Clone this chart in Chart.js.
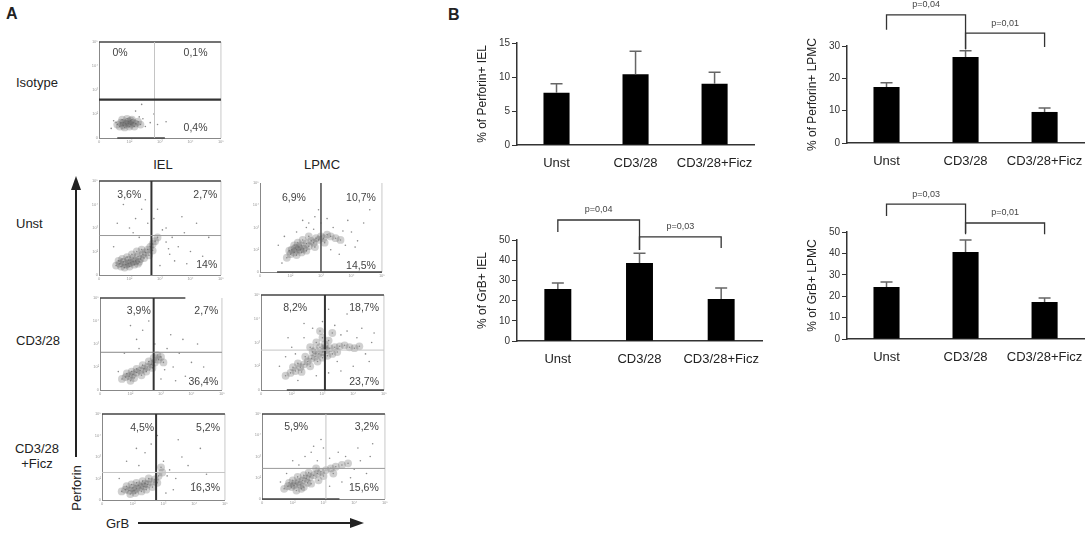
<!DOCTYPE html>
<html><head><meta charset="utf-8">
<script src="https://cdn.jsdelivr.net/npm/chart.js@4.4.1/dist/chart.umd.min.js"></script>
<style>
html,body{margin:0;padding:0;background:#fff;}
#fig{position:relative;width:1088px;height:543px;overflow:hidden;font-family:'Liberation Sans',Arial,sans-serif;color:#222;background:#fff;}
canvas{position:absolute;}
.lbl{position:absolute;font-size:13px;white-space:nowrap;line-height:1;}
.mid{transform:translateY(-50%);}
svg{position:absolute;left:0;top:0;}
</style></head><body>
<div id="fig">
  <div class="lbl" style="left:6px;top:6px;font-weight:bold;font-size:16px;">A</div>
  <div class="lbl" style="left:448px;top:7px;font-weight:bold;font-size:16px;">B</div>
  <div class="lbl mid" style="left:16px;top:82px;">Isotype</div>
  <div class="lbl mid" style="left:16px;top:223px;">Unst</div>
  <div class="lbl mid" style="left:16px;top:340px;">CD3/28</div>
  <div class="lbl" style="left:12px;top:441px;width:50px;text-align:center;line-height:15px;">CD3/28<br>+Ficz</div>
  <div class="lbl" style="left:163px;top:164px;transform:translate(-50%,-50%);">IEL</div>
  <div class="lbl" style="left:322px;top:164px;transform:translate(-50%,-50%);">LPMC</div>
  <div class="lbl" style="left:76px;top:488px;transform:translate(-50%,-50%) rotate(-90deg);">Perforin</div>
  <div class="lbl mid" style="left:106px;top:523px;">GrB</div>
  <svg width="1088" height="543">
    <line x1="76" y1="189" x2="76" y2="457" stroke="#222" stroke-width="2"/>
    <polygon points="76,176 71,190 81,190" fill="#222"/>
    <line x1="138" y1="523" x2="352" y2="523" stroke="#222" stroke-width="2"/>
    <polygon points="364,523 350,518 350,528" fill="#222"/>
  </svg>
</div>
<script>
// ---------------- DATA ----------------
const groups = ['Unst', 'CD3/28', 'CD3/28+Ficz'];

const perfIelMean  = [7.7, 10.4, 9.0];
const perfIelErr   = [1.3, 3.4, 1.7];
const perfLpmcMean = [17.3, 26.6, 9.6];
const perfLpmcErr  = [1.3, 1.9, 1.2];
const grbIelMean   = [25.7, 38.6, 20.8];
const grbIelErr    = [3.0, 4.9, 5.4];
const grbLpmcMean  = [24.3, 40.6, 17.3];
const grbLpmcErr   = [2.3, 5.7, 1.9];

const ticks15 = ['0', '5', '10', '15'];
const ticks30 = ['0', '10', '20', '30'];
const ticks50 = ['0', '10', '20', '30', '40', '50'];

// brackets: [fromGroup, toGroup, barLevel, leftLegEnd, rightLegEnd, label]
const perfLpmcBrackets = [[0, 1, 39.6, 35, 29, 'p=0,04'], [1, 2, 34, 29, 29.7, 'p=0,01']];
const grbIelBrackets   = [[0, 1, 59.9, 54, 45, 'p=0,04'], [1, 2, 51.5, 45, 46, 'p=0,03']];
const grbLpmcBrackets  = [[0, 1, 63, 57.5, 49.5, 'p=0,03'], [1, 2, 54.2, 49, 49, 'p=0,01']];

// flow plots: gates (in % of axis) and quadrant percentages [UL, UR, LR]
const flowTicks = ['0', '10²', '10³', '10⁴', '10⁵'];
const gateX = [45.5, 43, 50, 44, 52, 44, 52];
const gateY = [40, 42, null, 41, 42, 32, 36];
const pctIso      = ['0%', '0,1%', '0,4%'];
const pctUnstIel  = ['3,6%', '2,7%', '14%'];
const pctUnstLpmc = ['6,9%', '10,7%', '14,5%'];
const pctCd3Iel   = ['3,9%', '2,7%', '36,4%'];
const pctCd3Lpmc  = ['8,2%', '18,7%', '23,7%'];
const pctFiczIel  = ['4,5%', '5,2%', '16,3%'];
const pctFiczLpmc = ['5,9%', '3,2%', '15,6%'];

// hand-read dot clouds (x%, y%)
const isoCore = [[15,14],[18,16],[20,13],[22,15],[24,17],[26,14],[28,16],[30,15],[19,19],[23,20],[27,19],[21,11],[25,12],[29,12],[17,12],[32,17],[34,14],[24,15],[20,16],[26,18]];
const isoSparse = [[12,18],[36,20],[38,12],[42,16],[48,14],[55,17],[30,28],[35,35],[10,10],[45,25],[33,22],[14,16]];
const unstIelCore = [[14,10],[17,12],[20,14],[22,11],[24,16],[26,13],[28,18],[30,15],[32,20],[34,17],[36,22],[38,24],[40,27],[42,30],[44,33],[46,36],[48,40],[19,17],[23,19],[27,22],[31,25],[35,27],[25,9],[29,11],[33,14],[37,18],[41,21],[16,15],[21,8],[44,26],[18,9],[24,12],[28,14],[32,12]];
const unstIelSparse = [[25,50],[30,60],[35,70],[20,75],[40,55],[28,45],[45,60],[55,50],[60,40],[65,30],[70,45],[75,25],[80,55],[85,20],[58,22],[62,15],[50,10],[55,35],[90,40],[38,80],[15,55],[52,48],[68,62],[48,70],[12,30],[33,40],[57,28],[72,12]];
const unstLpmcCore = [[22,16],[25,20],[28,22],[30,25],[32,28],[34,30],[36,26],[38,32],[40,29],[42,35],[44,33],[46,38],[48,36],[50,40],[52,38],[55,42],[58,40],[26,25],[30,19],[34,22],[38,24],[31,33],[35,36],[40,40],[28,30],[24,24],[45,28],[62,38],[66,36],[53,33],[33,25],[29,27]];
const unstLpmcSparse = [[40,55],[45,62],[38,50],[50,55],[55,60],[35,58],[60,50],[70,30],[75,45],[80,35],[85,55],[65,20],[72,58],[20,40],[30,45],[48,70],[90,70],[15,30],[58,25],[44,48],[18,10],[68,46],[78,28]];
const cd3IelCore = [[18,12],[21,14],[24,15],[27,17],[30,19],[33,21],[36,23],[39,25],[42,28],[45,30],[48,33],[50,36],[22,18],[26,20],[30,23],[35,27],[40,31],[44,35],[47,38],[28,13],[34,16],[38,20],[43,24],[52,30],[25,10]];
const cd3IelSparse = [[30,55],[35,65],[25,70],[55,45],[60,25],[65,40],[70,15],[75,30],[80,50],[58,60],[45,50],[85,25],[50,12],[40,75],[62,10],[20,40],[15,20],[53,22],[68,55],[32,45]];
const cd3LpmcCore = [[20,15],[24,18],[28,20],[32,24],[35,27],[38,30],[41,33],[44,35],[47,38],[50,40],[53,42],[56,44],[60,45],[64,46],[68,47],[72,45],[76,44],[80,46],[30,28],[36,35],[42,40],[48,45],[52,48],[46,30],[54,36],[58,38],[40,25],[33,19],[26,24],[62,40],[50,55],[45,50],[55,52],[58,60],[48,62],[40,45],[50,34],[44,42],[52,44]];
const cd3LpmcSparse = [[15,25],[20,35],[25,45],[35,55],[42,65],[50,72],[60,68],[65,58],[70,62],[78,55],[85,38],[90,50],[88,30],[75,25],[65,20],[55,18],[45,15],[30,10],[92,60],[70,80],[55,85],[35,70],[22,55],[82,65],[62,30],[28,38]];
const ficzIelCore = [[16,10],[19,12],[22,11],[25,14],[28,13],[31,15],[34,16],[37,18],[40,21],[43,24],[46,28],[49,32],[20,16],[24,18],[28,20],[33,22],[38,25],[27,8],[32,10],[36,12],[41,15],[23,7],[45,20],[48,38],[35,19],[30,17],[26,11]];
const ficzIelSparse = [[30,40],[35,55],[40,65],[28,60],[50,45],[55,35],[60,25],[65,50],[70,40],[75,20],[80,60],[58,12],[52,8],[85,30],[45,75],[20,45],[62,70],[90,15],[14,25],[53,28]];
const ficzLpmcCore = [[18,12],[21,15],[24,14],[27,18],[30,20],[33,22],[36,24],[39,26],[42,28],[45,30],[48,32],[52,34],[56,36],[60,38],[65,40],[70,42],[25,22],[29,26],[34,28],[38,31],[28,10],[34,14],[40,18],[46,22],[31,17],[37,19],[44,36],[22,19],[50,27],[58,30],[32,12],[26,16]];
const ficzLpmcSparse = [[30,40],[35,50],[40,55],[45,45],[50,60],[55,48],[62,55],[68,50],[75,35],[80,45],[85,30],[78,60],[88,50],[65,20],[55,15],[20,30],[25,45],[48,70],[90,65],[15,20],[72,25],[42,62]];

// ---------------- RENDER ----------------
Chart.defaults.font.family = "'Liberation Sans', Arial, sans-serif";
Chart.defaults.animation = false;

const fig = document.getElementById('fig');
function addCanvas(left, top, w, h) {
  const c = document.createElement('canvas');
  c.width = w; c.height = h;
  c.style.left = left + 'px'; c.style.top = top + 'px';
  c.style.width = w + 'px'; c.style.height = h + 'px';
  fig.appendChild(c);
  return c;
}

const flowPlugin = {
  id: 'flow',
  afterDatasetsDraw(chart, args, o) {
    const {ctx, chartArea: a, scales: {x, y}} = chart;
    const line = (x1, y1, x2, y2, c, w) => { ctx.beginPath(); ctx.strokeStyle = c; ctx.lineWidth = w; ctx.moveTo(x1, y1); ctx.lineTo(x2, y2); ctx.stroke(); };
    const st = o.st;
    ctx.save();
    line(a.right, a.top, a.right, a.bottom, '#c8c8c8', 1);
    if (st.top) line(x.getPixelForValue(st.top[0]), a.top, x.getPixelForValue(st.top[1]), a.top, '#444', 1.6);
    if (st.bottom) line(x.getPixelForValue(st.bottom[0]), a.bottom, x.getPixelForValue(st.bottom[1]), a.bottom, '#444', 1.6);
    if (o.gx != null) { const px = x.getPixelForValue(o.gx); line(px, a.top, px, a.bottom, st.v[0], st.v[1]); }
    if (o.gy != null) { const py = y.getPixelForValue(o.gy); line(a.left, py, a.right, py, st.h[0], st.h[1]); }
    ctx.fillStyle = '#444';
    ctx.font = "10.5px 'Liberation Sans', Arial, sans-serif";
    ctx.textBaseline = 'middle';
    const L = o.lp;
    ctx.textAlign = 'left';
    ctx.fillText(o.pct[0], x.getPixelForValue(L[0]), y.getPixelForValue(L[1]));
    ctx.textAlign = 'right';
    ctx.fillText(o.pct[1], x.getPixelForValue(L[2]), y.getPixelForValue(L[3]));
    ctx.fillText(o.pct[2], x.getPixelForValue(L[4]), y.getPixelForValue(L[5]));
    ctx.restore();
  }
};

function makeFlow(rect, core, sparse, gx, gy, pct, lp, st) {
  const [l, t, r, b] = rect;
  const padL = 14, padT = 3, padR = 3, padB = 10;
  const c = addCanvas(l - padL, t - padT, (r - l) + padL + padR, (b - t) + padT + padB);
  const axisCommon = {
    type: 'linear', min: 0, max: 100,
    grid: {display: false, drawTicks: false},
    border: {display: true, color: '#888', width: 1, dash: [1, 2]},
    ticks: {stepSize: 25, font: {size: 4}, color: '#999', padding: 1, callback: (v, i) => flowTicks[i]}
  };
  new Chart(c, {
    type: 'scatter',
    data: {datasets: [
      {data: core.map(p => ({x: p[0], y: p[1]})), pointRadius: 3.9, pointBorderWidth: 0, pointBackgroundColor: 'rgba(100,100,100,0.3)'},
      {data: core.map(p => ({x: p[0], y: p[1]})), pointRadius: 0.8, pointBorderWidth: 0, pointBackgroundColor: 'rgba(90,90,90,0.6)'},
      {data: sparse.map(p => ({x: p[0], y: p[1]})), pointRadius: 0.8, pointBorderWidth: 0, pointBackgroundColor: 'rgba(110,110,110,0.8)'}
    ]},
    options: {
      responsive: false, events: [],
      layout: {padding: {top: padT, right: padR, left: 0, bottom: 0}},
      plugins: {legend: {display: false}, tooltip: {enabled: false},
        flow: {gx, gy, pct, lp, st}},
      scales: {
        x: Object.assign({}, axisCommon, {afterFit(s) { s.height = padB; }}),
        y: Object.assign({}, axisCommon, {afterFit(s) { s.width = padL; }})
      }
    },
    plugins: [flowPlugin]
  });
}

const DARK = ['#333', 2], MIDG = ['#999', 1], LIGHT = ['#c4c4c4', 1];
makeFlow([99, 41, 222, 138], isoCore, isoSparse, gateX[0], gateY[0], pctIso, [11, 88, 89, 88, 89, 10],
  {top: [0, 100], bottom: [15, 54], v: LIGHT, h: ['#333', 2.2]});
makeFlow([99, 180, 222, 275], unstIelCore, unstIelSparse, gateX[1], gateY[1], pctUnstIel, [15, 85, 97, 85, 97, 10],
  {top: [0, 100], v: DARK, h: MIDG});
makeFlow([260, 182, 383, 272], unstLpmcCore, unstLpmcSparse, gateX[2], gateY[2], pctUnstLpmc, [18, 83, 95, 83, 95, 7],
  {bottom: [14, 100], v: ['#555', 1.6], h: MIDG});
makeFlow([100, 297, 223, 390], cd3IelCore, cd3IelSparse, gateX[3], gateY[3], pctCd3Iel, [22, 86, 97, 86, 97, 9],
  {top: [0, 70], v: DARK, h: ['#888', 1]});
makeFlow([261, 294, 385, 390], cd3LpmcCore, cd3LpmcSparse, gateX[4], gateY[4], pctCd3Lpmc, [18, 86, 96, 86, 96, 8],
  {top: [0, 100], bottom: [21, 100], v: DARK, h: LIGHT});
makeFlow([102, 413, 226, 500], ficzIelCore, ficzIelSparse, gateX[5], gateY[5], pctFiczIel, [23, 84, 96, 84, 96, 14],
  {top: [0, 100], v: DARK, h: LIGHT});
makeFlow([262, 413, 386, 499], ficzLpmcCore, ficzLpmcSparse, gateX[6], gateY[6], pctFiczLpmc, [18, 84, 95, 84, 95, 13],
  {top: [0, 100], bottom: [0, 63], v: LIGHT, h: MIDG});

// ---- bar charts ----
const barExtras = {
  id: 'barExtras',
  afterDatasetsDraw(chart, args, o) {
    const ctx = chart.ctx, ys = chart.scales.y, meta = chart.getDatasetMeta(0);
    const means = chart.data.datasets[0].data;
    ctx.save();
    ctx.strokeStyle = '#666'; ctx.lineWidth = 1.5;
    meta.data.forEach((bar, i) => {
      const top = ys.getPixelForValue(means[i] + o.err[i]);
      ctx.beginPath();
      ctx.moveTo(bar.x, bar.y); ctx.lineTo(bar.x, top);
      ctx.moveTo(bar.x - 6, top); ctx.lineTo(bar.x + 6, top);
      ctx.stroke();
    });
    ctx.strokeStyle = '#333'; ctx.lineWidth = 1.3;
    ctx.fillStyle = '#444';
    ctx.font = "9px 'Liberation Sans', Arial, sans-serif";
    ctx.textAlign = 'center'; ctx.textBaseline = 'middle';
    (o.brackets || []).forEach(b => {
      const xa = meta.data[b[0]].x, xb = meta.data[b[1]].x;
      const yl = ys.getPixelForValue(b[2]), ya = ys.getPixelForValue(b[3]), yb = ys.getPixelForValue(b[4]);
      ctx.beginPath();
      ctx.moveTo(xa, ya); ctx.lineTo(xa, yl); ctx.lineTo(xb, yl); ctx.lineTo(xb, yb);
      ctx.stroke();
      ctx.fillText(b[5], (xa + xb) / 2, yl - 10);
    });
    ctx.restore();
  }
};

function makeBar(left, top, w, h, padTop, means, errs, max, step, tickLabels, title, brackets) {
  const c = addCanvas(left, top, w, h);
  new Chart(c, {
    type: 'bar',
    data: {labels: groups, datasets: [{data: means, backgroundColor: '#000', borderWidth: 0,
      barPercentage: 0.33, categoryPercentage: 1.0}]},
    options: {
      responsive: false, events: [],
      layout: {padding: {top: padTop, right: 10, left: 0, bottom: 0}},
      plugins: {legend: {display: false}, tooltip: {enabled: false},
        barExtras: {err: errs, brackets: brackets}},
      scales: {
        x: {grid: {display: false, drawTicks: false},
            border: {display: true, color: '#333', width: 1.5},
            ticks: {font: {size: 13}, color: '#222', padding: 11, maxRotation: 0, minRotation: 0, autoSkip: false},
            afterFit(s) { s.height = 33; }},
        y: {min: 0, max: max,
            grid: {display: true, drawOnChartArea: false, drawTicks: true, tickLength: 5, color: '#333'},
            border: {display: true, color: '#333', width: 1.5},
            ticks: {stepSize: step, font: {size: 10}, color: '#333', padding: 2,
                    callback: (v, i) => tickLabels[i]},
            title: {display: true, text: title, font: {size: 12}, color: '#222', padding: {top: 10, bottom: 0}},
            afterFit(s) { s.width = 52; }}
      }
    },
    plugins: [barExtras]
  });
}

makeBar(465, 0, 300, 178, 43, perfIelMean, perfIelErr, 15, 5, ticks15, '% of Perforin+ IEL', []);
makeBar(795, 0, 300, 176, 46, perfLpmcMean, perfLpmcErr, 30, 10, ticks30, '% of Perforin+ LPMC', perfLpmcBrackets);
makeBar(465, 195, 307, 179, 45, grbIelMean, grbIelErr, 50, 10, ticks50, '% of GrB+ IEL', grbIelBrackets);
makeBar(795, 185, 300, 187, 47, grbLpmcMean, grbLpmcErr, 50, 10, ticks50, '% of GrB+ LPMC', grbLpmcBrackets);
</script>
</body></html>
